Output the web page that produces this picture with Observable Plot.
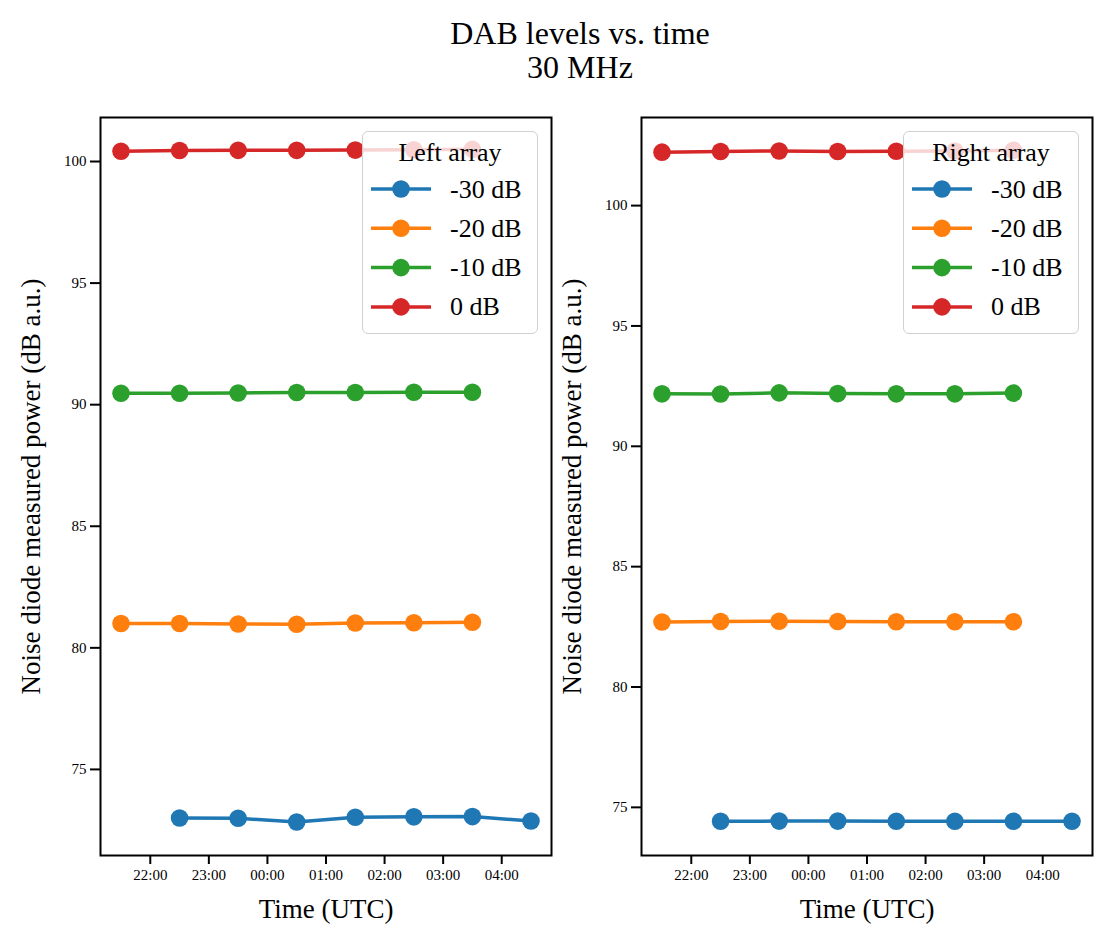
<!DOCTYPE html>
<html>
<head>
<meta charset="utf-8">
<script src="https://cdn.jsdelivr.net/npm/d3@7"></script>
<script src="https://cdn.jsdelivr.net/npm/@observablehq/plot@0.6"></script>
<style>
  html, body { margin: 0; padding: 0; background: white; }
  body { font-family: "Liberation Serif", "Times New Roman", serif; }
  #fig { position: relative; width: 1112px; height: 945px; }
  #title { position: absolute; left: 0; top: 16px; width: 1160px; text-align: center; font-size: 32px; line-height: 34px; color: black; font-family: "Liberation Serif", "Times New Roman", serif; }
  .panel { position: absolute; top: 90px; }
  .legend { position: absolute; box-sizing: border-box; border: 1.5px solid #d0d0d0; border-radius: 6px; background: rgba(255,255,255,0.8); }
</style>
</head>
<body>
<div id="fig">
  <div id="title">DAB levels vs. time<br>30 MHz</div>
</div>
<script>
// ---- Data ----
const levels = ["-30 dB", "-20 dB", "-10 dB", "0 dB"];
const colors = ["#1f77b4", "#ff7f0e", "#2ca02c", "#d62728"];

const timesEarly = ["2023-01-01T21:30Z","2023-01-01T22:30Z","2023-01-01T23:30Z","2023-01-02T00:30Z","2023-01-02T01:30Z","2023-01-02T02:30Z","2023-01-02T03:30Z"];
const timesLate  = ["2023-01-01T22:30Z","2023-01-01T23:30Z","2023-01-02T00:30Z","2023-01-02T01:30Z","2023-01-02T02:30Z","2023-01-02T03:30Z","2023-01-02T04:30Z"];

const leftM30 = [73.00, 72.99, 72.84, 73.03, 73.05, 73.06, 72.88];
const leftM20 = [81.00, 81.00, 80.98, 80.97, 81.02, 81.03, 81.05];
const leftM10 = [90.47, 90.47, 90.48, 90.50, 90.50, 90.51, 90.51];
const left0   = [100.42, 100.45, 100.46, 100.46, 100.47, 100.48, 100.50];

const rightM30 = [74.42, 74.43, 74.43, 74.42, 74.42, 74.42, 74.42];
const rightM20 = [82.70, 82.72, 82.73, 82.72, 82.71, 82.71, 82.71];
const rightM10 = [92.18, 92.17, 92.22, 92.19, 92.18, 92.18, 92.21];
const right0   = [102.22, 102.25, 102.27, 102.25, 102.26, 102.27, 102.30];

const leftYTicks = [75, 80, 85, 90, 95, 100];
const rightYTicks = [75, 80, 85, 90, 95, 100];
const xDomain = [new Date("2023-01-01T21:09Z"), new Date("2023-01-02T04:51Z")];

function rows(seriesList) {
  const out = [];
  seriesList.forEach((vals, i) => {
    const times = i === 0 ? timesLate : timesEarly;
    vals.forEach((v, j) => out.push({level: levels[i], time: new Date(times[j]), value: v}));
  });
  return out;
}

function panel(seriesList, yDomain, yTicks, ml, mr) {
  const data = rows(seriesList);
  return Plot.plot({
    width: 556, height: 855,
    marginTop: 27, marginBottom: 90, marginLeft: ml, marginRight: mr,
    style: {fontFamily: "'Liberation Serif', 'Times New Roman', serif", background: "white", color: "black", overflow: "visible"},
    x: {type: "utc", domain: xDomain},
    y: {domain: yDomain},
    color: {domain: levels, range: colors},
    marks: [
      Plot.axisX({ticks: d3.utcHour.every(1), tickFormat: d3.utcFormat("%H:%M"), tickSize: 9, tickPadding: 5, fontSize: 15, label: null, strokeWidth: 2}),
      Plot.axisX({ticks: [], tickSize: 0, label: "Time (UTC)", labelAnchor: "center", labelArrow: "none", labelOffset: 62, fontSize: 27}),
      Plot.axisY({ticks: yTicks, tickSize: 10, tickPadding: 4, fontSize: 15, label: null, strokeWidth: 2}),
      Plot.axisY({ticks: [], tickSize: 0, label: "Noise diode measured power (dB a.u.)", labelAnchor: "center", labelArrow: "none", labelOffset: 80, fontSize: 27}),
      Plot.line(data, {x: "time", y: "value", z: "level", stroke: "level", strokeWidth: 3.5}),
      Plot.dot(data, {x: "time", y: "value", fill: "level", r: 8.8}),
      Plot.frame({stroke: "black", strokeWidth: 2})
    ]
  });
}

function legend(title, left) {
  const div = document.createElement("div");
  div.className = "legend";
  div.style.left = left + "px";
  div.style.top = "131px";
  div.style.width = "176px";
  div.style.height = "203px";
  const svg = d3.create("svg").attr("width", 176).attr("height", 203).style("display", "block").style("overflow", "visible");
  svg.append("text").attr("x", 87).attr("y", 20).attr("text-anchor", "middle").attr("dominant-baseline", "central")
    .attr("font-size", 26).attr("font-family", "'Liberation Serif', serif").text(title);
  levels.forEach((lv, i) => {
    const y = 57 + i * 39.3;
    const g = svg.append("g");
    g.append("line").attr("x1", 8).attr("x2", 68).attr("y1", y).attr("y2", y).attr("stroke", colors[i]).attr("stroke-width", 3.5);
    g.append("circle").attr("cx", 38).attr("cy", y).attr("r", 8.8).attr("fill", colors[i]);
    g.append("text").attr("x", 87).attr("y", y).attr("dominant-baseline", "central")
      .attr("font-size", 26).attr("font-family", "'Liberation Serif', serif").text(lv);
  });
  div.appendChild(svg.node());
  return div;
}

const fig = document.getElementById("fig");
const p1 = panel([leftM30, leftM20, leftM10, left0], [71.46, 101.81], leftYTicks, 100, 5);
p1.classList.add("panel"); p1.style.left = "0px";
const p2 = panel([rightM30, rightM20, rightM10, right0], [73.0, 103.66], rightYTicks, 85, 20);
p2.classList.add("panel"); p2.style.left = "556px";
fig.appendChild(p1);
fig.appendChild(p2);
fig.appendChild(legend("Left array", 362));
fig.appendChild(legend("Right array", 903));
</script>
</body>
</html>
